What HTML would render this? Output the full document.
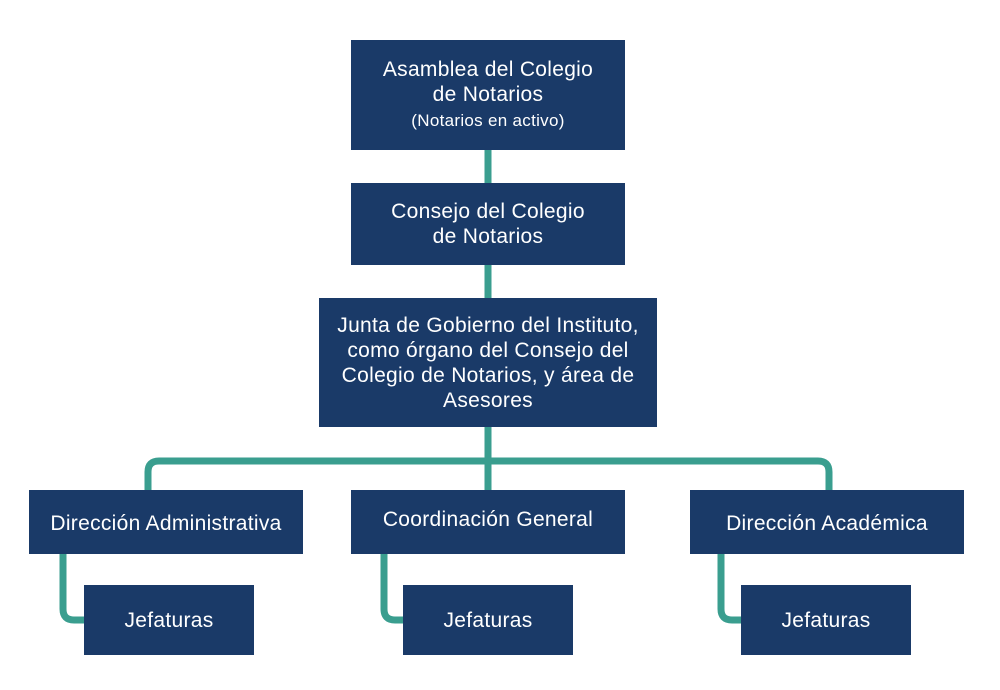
<!DOCTYPE html>
<html><head><meta charset="utf-8"><style>
body{margin:0;width:1000px;height:690px;background:#fff;position:relative;overflow:hidden;font-family:"Liberation Sans",sans-serif}
.b{position:absolute;background:#1a3a68;color:#fff;display:flex;align-items:center;justify-content:center;text-align:center;font-size:21px;line-height:25px;letter-spacing:0.3px;white-space:nowrap}
svg{position:absolute;left:0;top:0}
</style></head><body>
<svg width="1000" height="690"><g fill="none" stroke="#3a9e8f" stroke-width="7">
<path d="M488 150V183M488 265V298M488 427V490"/>
<path d="M148 490V472Q148 461 159 461H818Q829 461 829 472V490"/>
<path d="M63 554V609Q63 620 74 620H84"/>
<path d="M384 554V609Q384 620 395 620H403"/>
<path d="M721 554V609Q721 620 732 620H741"/>
</g></svg>
<div class="b" style="left:351px;top:40px;width:274px;height:110px"><div>Asamblea del Colegio<br>de Notarios<br><span style="font-size:17px">(Notarios en activo)</span></div></div>
<div class="b" style="left:351px;top:183px;width:274px;height:82px"><div>Consejo del Colegio<br>de Notarios</div></div>
<div class="b" style="left:319px;top:298px;width:338px;height:129px"><div>Junta de Gobierno del Instituto,<br>como órgano del Consejo del<br>Colegio de Notarios, y área de<br>Asesores</div></div>
<div class="b" style="left:29px;top:490px;width:274px;height:64px;padding-top:2px;box-sizing:border-box">Dirección Administrativa</div>
<div class="b" style="left:351px;top:490px;width:274px;height:64px;padding-bottom:6px;box-sizing:border-box">Coordinación General</div>
<div class="b" style="left:690px;top:490px;width:274px;height:64px;padding-top:2px;box-sizing:border-box">Dirección Académica</div>
<div class="b" style="left:84px;top:585px;width:170px;height:70px">Jefaturas</div>
<div class="b" style="left:403px;top:585px;width:170px;height:70px">Jefaturas</div>
<div class="b" style="left:741px;top:585px;width:170px;height:70px">Jefaturas</div>
</body></html>
